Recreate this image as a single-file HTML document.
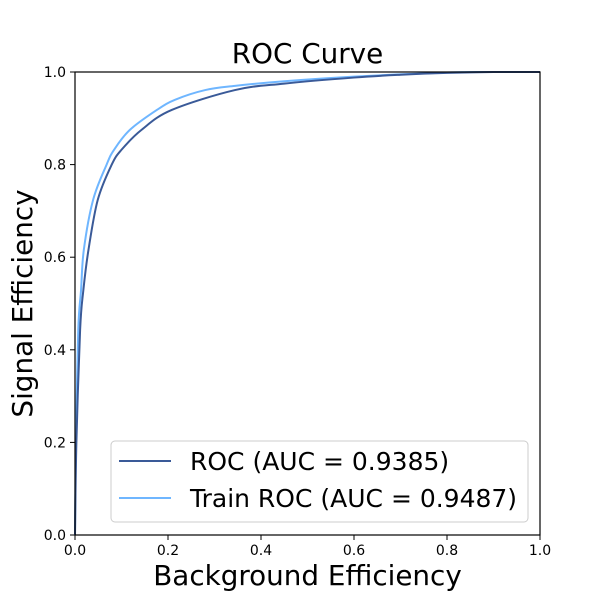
<!DOCTYPE html>
<html><head><meta charset="utf-8"><style>
body{margin:0;background:#fff}
svg text{font-family:"DejaVu Sans","Liberation Sans",sans-serif;fill:#000}
</style></head><body>
<svg id="chart" width="600" height="600" viewBox="0 0 600 600">
<rect width="600" height="600" fill="#fff"/>
<text x="307.5" y="63" font-size="27.8" text-anchor="middle">ROC Curve</text>
<g id="axes"></g>
<g id="series"></g>
<rect x="75" y="72" width="465" height="463" fill="none" stroke="#000" stroke-width="1.2"/>
<text x="307.5" y="585" font-size="27.8" text-anchor="middle">Background Efficiency</text>
<text transform="translate(32,303.5) rotate(-90)" font-size="27.8" text-anchor="middle">Signal Efficiency</text>
<g>
<rect x="111" y="441" width="417" height="81" rx="4" fill="#fff" fill-opacity="0.8" stroke="#ccc"/>
<line x1="119" y1="461" x2="171" y2="461" stroke="#3a5a98" stroke-width="2"/>
<text x="190" y="470" font-size="25">ROC (AUC = 0.9385)</text>
<line x1="119" y1="498" x2="171" y2="498" stroke="#6fb6ff" stroke-width="2"/>
<text x="190" y="507" font-size="25">Train ROC (AUC = 0.9487)</text>
</g>
</svg>
<script>
const ticks = [0, 0.2, 0.4, 0.6, 0.8, 1.0];
const tickLabels = ["0.0","0.2","0.4","0.6","0.8","1.0"];
const rocFpr = [0,0.003,0.011,0.018,0.029,0.049,0.079,0.1,0.143,0.208,0.344,0.45,0.6,0.7,0.8,0.9,1];
const rocTpr = [0,0.2,0.443,0.529,0.616,0.724,0.8,0.832,0.875,0.918,0.961,0.975,0.988,0.994,0.998,1,1];
const trainFpr = [0,0.002,0.007,0.013,0.019,0.039,0.068,0.084,0.118,0.176,0.215,0.28,0.344,0.45,0.6,0.8,0.9,1];
const trainTpr = [0,0.2,0.443,0.529,0.616,0.724,0.8,0.832,0.875,0.918,0.94,0.961,0.97,0.98,0.99,0.999,1,1];

const NS = "http://www.w3.org/2000/svg";
const X = v => 75 + 465 * v;
const Y = v => 535 - 463 * v;
const axes = document.getElementById('axes');
ticks.forEach((t, i) => {
  const lx = document.createElementNS(NS, 'line');
  lx.setAttribute('x1', X(t)); lx.setAttribute('x2', X(t));
  lx.setAttribute('y1', 535); lx.setAttribute('y2', 540);
  lx.setAttribute('stroke', '#000');
  
  
  axes.appendChild(lx);
  const tx = document.createElementNS(NS, 'text');
  tx.setAttribute('x', X(t)); tx.setAttribute('y', 555);
  tx.setAttribute('font-size', '14'); tx.setAttribute('text-anchor', 'middle');
  tx.textContent = tickLabels[i];
  
  
  axes.appendChild(tx);
  const ly = document.createElementNS(NS, 'line');
  ly.setAttribute('x1', 70); ly.setAttribute('x2', 75);
  ly.setAttribute('y1', Y(t)); ly.setAttribute('y2', Y(t));
  ly.setAttribute('stroke', '#000');
  
  
  axes.appendChild(ly);
  const ty = document.createElementNS(NS, 'text');
  ty.setAttribute('x', 66); ty.setAttribute('y', Y(t) + 5);
  ty.setAttribute('font-size', '14'); ty.setAttribute('text-anchor', 'end');
  ty.textContent = tickLabels[i];
  
  
  axes.appendChild(ty);
});
const series = document.getElementById('series');
function draw(xs, ys, color, name) {
  const pts = xs.map((x, i) => [X(x), Y(ys[i])]);
  let d = 'M' + pts[0][0].toFixed(2) + ',' + pts[0][1].toFixed(2);
  for (let i = 0; i < pts.length - 1; i++) {
    const p0 = pts[Math.max(0, i - 1)], p1 = pts[i], p2 = pts[i + 1], p3 = pts[Math.min(pts.length - 1, i + 2)];
    const c1x = p1[0] + (p2[0] - p0[0]) / 6, c1y = p1[1] + (p2[1] - p0[1]) / 6;
    const c2x = p2[0] - (p3[0] - p1[0]) / 6, c2y = p2[1] - (p3[1] - p1[1]) / 6;
    d += 'C' + c1x.toFixed(2) + ',' + c1y.toFixed(2) + ' ' + c2x.toFixed(2) + ',' + c2y.toFixed(2) + ' ' + p2[0].toFixed(2) + ',' + p2[1].toFixed(2);
  }
  const p = document.createElementNS(NS, 'path');
  p.setAttribute('d', d);
  p.setAttribute('fill', 'none');
  p.setAttribute('stroke', color);
  p.setAttribute('stroke-width', '2');
  p.setAttribute('stroke-linejoin', 'round');
  
  
  series.appendChild(p);
}
draw(trainFpr, trainTpr, '#6fb6ff', 'train-roc-curve');
draw(rocFpr, rocTpr, '#3a5a98', 'roc-curve');
</script>
</body></html>
